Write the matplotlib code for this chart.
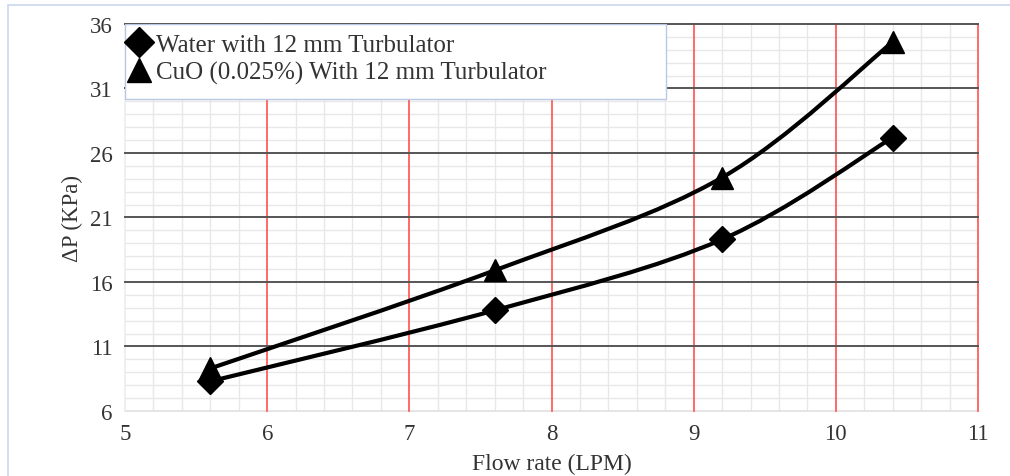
import numpy as np
import matplotlib
matplotlib.use("Agg")
import matplotlib.pyplot as plt
from matplotlib.path import Path
from matplotlib.patches import PathPatch, Rectangle

plt.rcParams['font.family'] = ['Liberation Serif', 'DejaVu Serif']

# data
flow = [5.6, 7.6, 9.2, 10.4]
dp_water = [8.3, 13.8, 19.3, 27.2]
dp_cuo = [9.3, 16.9, 24.1, 34.6]
labels = ["Water with 12 mm Turbulator", "CuO (0.025%) With 12 mm Turbulator"]


def smooth_path(x, y, k=1/6):
    # Excel-style smoothed line: cubic Bezier through the points
    pts = np.column_stack([x, y])
    verts = [pts[0]]
    codes = [Path.MOVETO]
    n = len(pts)
    for i in range(n - 1):
        p0 = pts[max(i - 1, 0)]
        p1 = pts[i]
        p2 = pts[i + 1]
        p3 = pts[min(i + 2, n - 1)]
        c1 = p1 + (p2 - p0) * k
        c2 = p2 - (p3 - p1) * k
        verts += [c1, c2, p2]
        codes += [Path.CURVE4] * 3
    return Path(verts, codes)


fig = plt.figure(figsize=(10.1, 4.77), dpi=100)
ax = fig.add_axes([0.1238, 0.1363, 0.8445, 0.8113])

# outer frame of the chart area
fig.patches.append(Rectangle((0.008, -0.1), 1.2, 1.087, transform=fig.transFigure,
                             fill=False, edgecolor='#c9d7ee', lw=1.2))

ax.set_xlim(5, 11)
ax.set_ylim(6, 36)
xmajor = np.arange(5, 12, 1)
ymajor = np.arange(6, 37, 5)
ax.set_xticks(xmajor)
ax.set_yticks(ymajor)
xminor = [v for v in np.round(np.arange(5, 11.01, 0.2), 1) if abs(v - round(v)) > 1e-6]
yminor = [v for v in range(6, 37) if (v - 6) % 5]
ax.set_xticks(xminor, minor=True)
ax.set_yticks(yminor, minor=True)

# minor grid below, major lines on top of it
ax.grid(which='minor', color='#e8e8e8', lw=1)
ax.set_axisbelow(True)
ax.axhline(6, color='#e0e0e0', lw=1.2, zorder=1, clip_on=False)
ax.axvline(5, color='#ececec', lw=1.2, zorder=1, clip_on=False)
for xv in xmajor[1:]:
    ax.axvline(xv, color='#ff5050', lw=1.2, zorder=1, clip_on=False)
for yv in ymajor[1:]:
    ax.axhline(yv, color='#555555', lw=1.4, zorder=1.1, clip_on=False)
for s in ax.spines.values():
    s.set_visible(False)
ax.tick_params(which='both', length=0, labelsize=16.5, colors='#333333', pad=9)

for y, mk, ms in [(dp_water, 'D', 13), (dp_cuo, '^', 16)]:
    ax.add_patch(PathPatch(smooth_path(flow, y), fill=False, lw=3, edgecolor='black',
                           zorder=3, capstyle='round', joinstyle='round'))
    ax.plot(flow, y, ls='none', marker=mk, ms=ms, color='black', zorder=4)

# legend box
ax.add_patch(Rectangle((0, 0.806), 0.634, 0.194, transform=ax.transAxes,
                       facecolor='white', edgecolor='#b8c8e6', lw=1, zorder=5))
h1 = plt.Line2D([], [], color='black', marker='D', ms=15, lw=0)
h2 = plt.Line2D([], [], color='black', marker='^', ms=17, lw=0)
leg = ax.legend([h1, h2], labels, loc='upper left', bbox_to_anchor=(-0.013, 1.015),
                frameon=False, handlelength=0.8, handletextpad=0.3, labelspacing=0.2,
                borderaxespad=0.2, fontsize=18)
leg.set_zorder(6)
for t in leg.get_texts():
    t.set_color('#333333')

ax.set_xlabel("Flow rate (LPM)", fontsize=17, color='#333333', labelpad=6)
ax.set_ylabel("ΔP (KPa)", fontsize=16.5, color='#333333', labelpad=5)

fig.savefig("out.png", dpi=100)
